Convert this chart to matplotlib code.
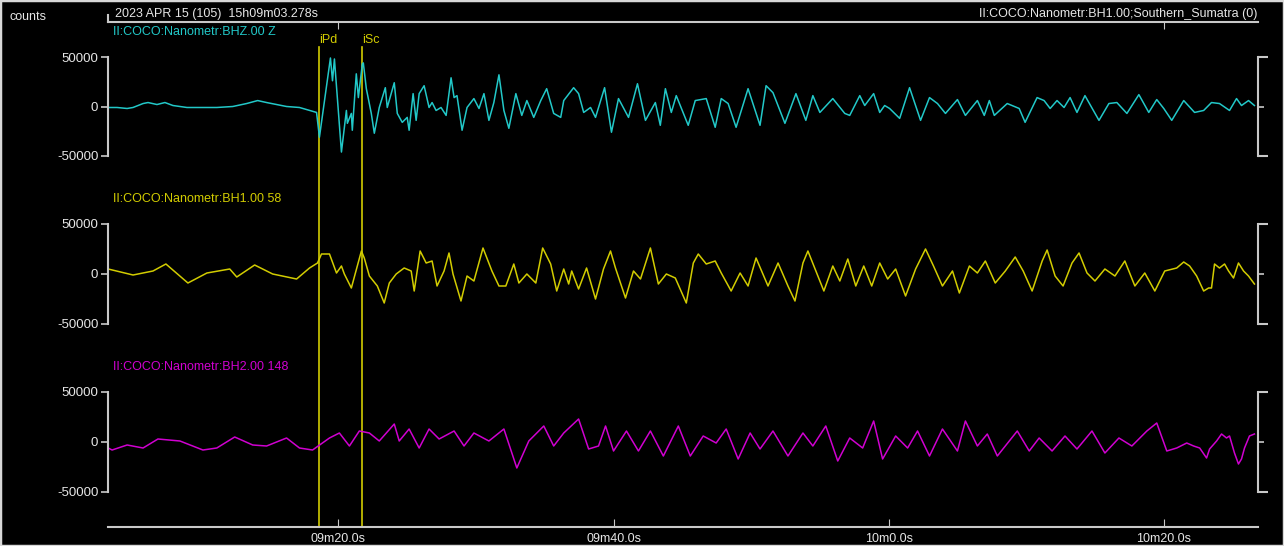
import matplotlib
matplotlib.use('Agg')
import matplotlib.pyplot as plt
from matplotlib.patches import Rectangle

plt.rcParams['font.family'] = ['Liberation Sans', 'DejaVu Sans']

# time in s after 15h09m00s, amplitude in counts
bhz_t = [63.26, 63.91, 64.64, 65.07, 65.80, 66.16, 66.81, 67.39, 67.97, 68.99, 69.93, 71.16,
         72.32, 73.33, 74.13, 74.78, 75.51, 76.23, 77.17, 77.90, 78.41,
         78.62, 79.42, 79.57, 79.71, 80.22, 80.58, 80.65, 80.94, 81.01, 81.30, 81.45, 81.74,
         81.81, 82.03, 82.39, 82.61, 82.97, 83.41, 83.55, 84.06, 84.28, 84.64, 85.00, 85.14,
         85.43, 85.65, 85.87, 86.23, 86.59, 86.81, 87.10, 87.46, 87.83, 88.19, 88.41, 88.62,
         88.99, 89.35, 89.85, 90.22, 90.58, 90.94, 91.30, 91.67, 92.03, 92.39, 92.90, 93.33,
         93.70, 94.20, 94.71, 95.14, 95.65, 96.16, 96.38, 97.10, 97.46, 97.83, 98.33, 98.69,
         99.35, 99.85, 100.36, 101.09, 101.74, 102.32, 103.04, 103.40, 103.77, 104.20, 104.56,
         105.43, 105.94, 106.74, 107.39, 107.83, 108.33, 108.91, 109.78, 110.65, 111.09, 111.59,
         112.46, 113.26, 113.98, 114.49, 115.00, 115.94, 116.81, 117.17, 117.90, 118.26, 118.91,
         119.35, 119.71, 120.07, 120.80, 121.52, 122.32, 122.97, 123.55, 124.13, 125.00, 125.58,
         126.45, 126.95, 127.32, 127.68, 128.62, 129.49, 129.92, 130.79, 131.30, 131.74, 132.24,
         132.75, 133.19, 133.69, 134.27, 135.29, 136.01, 136.59, 137.32, 138.19, 138.91, 139.49,
         140.00, 140.58, 141.45, 142.24, 142.90, 143.47, 144.05, 144.78, 145.29, 145.65, 146.16,
         146.59]
bhz_v = [-1000, -1000, -2000, -1000, 3000, 4000, 2000, 4000, 1000, -1000, -1000, -1000,
         0, 3000, 6000, 4000, 2000, 0, -1000, -4000, -6000,
         -31000, 49000, 26000, 48000, -46000, -4000, -17000, -7000, -24000, 33000, 9000, 43000,
         44000, 18000, -7000, -27000, -1000, 19000, -1000, 24000, -7000, -16000, -11000, -24000,
         13000, -14000, 13000, 21000, -1000, 4000, -4000, -1000, -9000, 29000, 9000, 11000,
         -24000, -1000, 8000, -2000, 13000, -14000, 4000, 32000, -4000, -22000, 13000, -9000,
         6000, -11000, 6000, 18000, -7000, -11000, 6000, 19000, 13000, -6000, -1000, -11000,
         19000, -26000, 8000, -11000, 23000, -14000, 4000, -19000, 18000, -6000, 11000,
         -19000, 6000, 8000, -21000, 8000, 3000, -21000, 18000, -19000, 21000, 14000,
         -17000, 13000, -14000, 11000, -6000, 8000, -7000, -9000, 11000, 1000, 13000,
         -6000, 1000, -2000, -12000, 19000, -14000, 9000, 3000, -7000, 7000, -9000,
         6000, -9000, 6000, -9000, 3000, -2000, -16000, 9000, 6000, -2000, 6000,
         -1000, 9000, -6000, 11000, -14000, 3000, 4000, -7000, 12000, -6000, 7000,
         -2000, -14000, 6000, -6000, -4000, 4000, 3000, -4000, 8000, 1000, 6000,
         1000]

bh1_t = [63.26, 65.07, 66.52, 67.46, 69.06, 70.44, 72.10, 72.61, 73.91, 75.22, 76.96, 77.90,
         78.48, 78.77, 79.35, 79.86, 80.22, 80.43, 80.94, 81.67, 81.88, 82.25, 82.83, 83.33,
         83.70, 84.20, 84.78, 85.29, 85.51, 85.94, 86.38, 86.81, 87.17, 87.68, 88.04, 88.33,
         88.91, 89.35, 89.85, 90.51, 91.16, 91.67, 92.17, 92.75, 93.12, 93.70, 94.35, 94.85,
         95.43, 95.87, 96.38, 96.74, 96.96, 97.46, 98.04, 98.69, 99.27, 99.78, 100.14, 100.87,
         101.45, 101.96, 102.68, 103.26, 103.84, 104.49, 105.29, 105.80, 106.16, 106.74, 107.39,
         107.83, 108.55, 109.20, 109.78, 110.36, 111.23, 111.96, 112.68, 113.19, 113.77, 114.13,
         114.71, 115.29, 115.94, 116.45, 117.03, 117.61, 118.19, 118.77, 119.35, 119.93, 120.51,
         121.23, 121.96, 122.68, 123.26, 123.91, 124.64, 125.14, 125.87, 126.45, 127.03, 127.75,
         128.48, 129.20, 129.78, 130.43, 131.16, 131.52, 132.10, 132.68, 133.33, 133.84, 134.42,
         135.00, 135.72, 136.45, 137.17, 137.90, 138.62, 139.35, 140.07, 140.94, 141.45, 141.88,
         142.39, 142.90, 143.26, 143.47, 143.69, 144.05, 144.42, 144.71, 145.07, 145.43, 145.80,
         146.16, 146.59]
bh1_v = [5000, -1000, 3000, 10000, -9000, 1000, 5000, -3000, 9000, 0, -5000, 6000,
         11000, 20000, 20000, 1000, 8000, 0, -14000, 23000, 16000, -2000, -12000, -29000,
         -9000, 0, 6000, 3000, -17000, 23000, 11000, 13000, -12000, 3000, 21000, 0,
         -27000, -2000, -7000, 26000, 3000, -12000, -12000, 10000, -9000, 0, -9000, 26000,
         10000, -17000, 5000, -10000, 3000, -15000, 6000, -25000, 5000, 23000, 6000, -24000,
         3000, -5000, 26000, -10000, 0, -4000, -29000, 11000, 20000, 10000, 13000,
         1000, -17000, 1000, -12000, 16000, -12000, 11000, -12000, -27000, 11000, 23000,
         3000, -17000, 8000, -7000, 15000, -12000, 8000, -12000, 11000, -5000, 5000,
         -22000, 5000, 25000, 8000, -12000, 3000, -19000, 8000, 1000, 13000, -9000,
         3000, 17000, 3000, -17000, 13000, 24000, -2000, -12000, 11000, 21000, 1000,
         -7000, 5000, -2000, 13000, -12000, 1000, -17000, 3000, 6000, 12000, 8000,
         -2000, -17000, -14000, -14000, 10000, 6000, 10000, 3000, -4000, 11000, 3000,
         -2000, -10000]

bh2_t = [63.26, 63.55, 64.64, 65.80, 66.88, 68.48, 70.15, 71.16, 72.46, 73.77, 74.78, 76.23,
         77.17, 78.12, 79.35, 80.07, 80.80, 81.52, 82.25, 82.97, 84.06, 84.42, 85.14, 85.87,
         86.59, 87.32, 88.41, 89.13, 89.85, 90.94, 92.03, 92.97, 93.84, 94.93, 95.65, 96.38,
         97.46, 98.19, 98.91, 99.42, 100.00, 100.94, 101.81, 102.68, 103.62, 104.71, 105.58,
         106.52, 107.46, 108.19, 109.06, 109.93, 110.65, 111.59, 112.68, 113.77, 114.49, 115.43,
         116.30, 117.17, 118.11, 118.91, 119.56, 120.51, 121.38, 122.10, 122.97, 123.91, 125.00,
         125.58, 126.45, 127.17, 127.90, 128.77, 129.35, 130.22, 130.94, 131.88, 132.82, 133.69,
         134.78, 135.72, 136.74, 137.68, 138.77, 139.49, 140.22, 140.94, 141.67, 142.17, 142.61,
         143.11, 143.33, 143.84, 144.20, 144.56, 144.78, 145.14, 145.43, 145.65, 145.87, 146.23,
         146.59]
bh2_v = [-6000, -8000, -3000, -6000, 3000, 1000, -8000, -6000, 5000, -3000, -4000, 4000,
         -6000, -8000, 4000, 9000, -4000, 11000, 9000, 1000, 18000, 1000, 13000, -6000,
         13000, 3000, 11000, -4000, 9000, 1000, 13000, -26000, 1000, 16000, -4000, 9000,
         23000, -7000, -4000, 16000, -9000, 11000, -9000, 11000, -14000, 16000, -14000,
         6000, -1000, 13000, -17000, 9000, -7000, 11000, -14000, 9000, -4000, 16000,
         -19000, 4000, -6000, 21000, -17000, 6000, -6000, 11000, -14000, 13000, -9000,
         21000, -4000, 8000, -14000, 1000, 11000, -9000, 4000, -9000, 6000, -7000,
         11000, -11000, 4000, -4000, 11000, 19000, -9000, -6000, -1000, -4000, -6000,
         -16000, -7000, 1000, 8000, 4000, 6000, -11000, -22000, -17000, -6000, 6000,
         8000]

channels = ['II:COCO:Nanometr:BHZ.00 Z', 'II:COCO:Nanometr:BH1.00 58', 'II:COCO:Nanometr:BH2.00 148']
colors = ['#22c8c8', '#d2cc00', '#d000d0']
picks = [78.6, 81.75]
pick_names = ['iPd', 'iSc']
amp_ticks = [-50000, 0, 50000]
time_ticks = [80, 100, 120, 140]
time_labels = ['09m20.0s', '09m40.0s', '10m0.0s', '10m20.0s']
t_start, t_end = 63.25, 146.85

W, H = 1284, 546
grey = '#c8c8c8'
txt = '#e6e6e6'


def box(x0, y0, x1, y1):
    return [x0 / W, 1 - y1 / H, (x1 - x0) / W, (y1 - y0) / H]


fig = plt.figure(figsize=(W / 100, H / 100), dpi=100, facecolor='black')
fig.patches.append(Rectangle((0, 0), 1, 1, transform=fig.transFigure, fill=False,
                             edgecolor='#d8d8d8', linewidth=2.5))

# frame with time axis and picks
fr = fig.add_axes(box(108, 22, 1258, 527))
fr.set_facecolor('none')
fr.set_xlim(t_start, t_end)
fr.set_ylim(0, 1)
for s in ['left', 'right', 'top']:
    fr.spines[s].set_visible(False)
fr.spines['bottom'].set_color(grey)
fr.spines['bottom'].set_linewidth(1.5)
fr.set_yticks([])
fr.set_xticks(time_ticks)
fr.set_xticklabels(time_labels)
fr.tick_params(axis='x', direction='in', length=6, color=grey, labelcolor=txt,
               labelsize=9, pad=4)
top = fr.secondary_xaxis('top')
top.spines['top'].set_color(grey)
top.spines['top'].set_linewidth(1.5)
top.set_xticks([time_ticks[0], time_ticks[-1]])
top.set_xticklabels([])
top.tick_params(direction='in', length=5, color=grey)
fr.plot([0, 0], [1, 1.014], transform=fr.transAxes, color=grey, lw=1.5, clip_on=False)

for p, name in zip(picks, pick_names):
    fr.axvline(p, ymin=0, ymax=(527 - 47) / 505, color='#d2cc00', lw=1.2)
    fr.text(p, (527 - 40) / 505, name, color='#d2cc00', fontsize=9,
            ha='left', va='center')

fig.text(115 / W, 1 - 14 / H, '2023 APR 15 (105)  15h09m03.278s', color=txt,
         fontsize=9, va='center')
fig.text(1257 / W, 1 - 14 / H, 'II:COCO:Nanometr:BH1.00;Southern_Sumatra (0)',
         color=txt, fontsize=9, va='center', ha='right')
fig.text(10 / W, 1 - 17 / H, 'counts', color=txt, fontsize=9, va='center')

series = [(bhz_t, bhz_v), (bh1_t, bh1_v), (bh2_t, bh2_v)]
rows = [(57, 156, 32), (224, 324, 199), (392, 492, 367)]
for (t, v), (y0, y1, ylab), col, name in zip(series, rows, colors, channels):
    ax = fig.add_axes(box(108, y0, 1258, y1))
    ax.set_facecolor('none')
    ax.plot(t, v, color=col, lw=1.1, clip_on=False)
    ax.set_xlim(t_start, t_end)
    ax.set_ylim(-50000, 50000)
    for s in ['top', 'bottom']:
        ax.spines[s].set_visible(False)
    for s in ['left', 'right']:
        ax.spines[s].set_color(grey)
        ax.spines[s].set_linewidth(1.5)
    ax.set_xticks([])
    ax.set_yticks(amp_ticks)
    ax.set_yticklabels([str(a) for a in amp_ticks])
    ax.tick_params(axis='y', direction='out', length=5, width=1.2, color=grey,
                   labelcolor=txt, labelsize=9.5, pad=2)
    # bracket on the right: long end ticks, short centre tick
    rt = ax.secondary_yaxis('right')
    rt.spines['right'].set_visible(False)
    rt.set_yticks([amp_ticks[0], amp_ticks[-1]])
    rt.set_yticklabels([])
    rt.set_yticks([0], minor=True)
    rt.tick_params(which='major', direction='out', length=7, width=1.5, color=grey)
    rt.tick_params(which='minor', direction='out', length=4, width=1.2, color=grey)
    fig.text(113 / W, 1 - ylab / H, name, color=col, fontsize=9, va='center')

fig.savefig('out.png', dpi=100, facecolor='black')
